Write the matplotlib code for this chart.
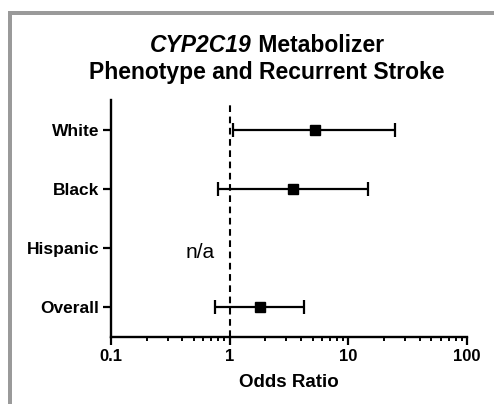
import numpy as np
import matplotlib
matplotlib.use("Agg")
import matplotlib.pyplot as plt
from matplotlib.patches import Rectangle

plt.rcParams['font.family'] = ['Liberation Sans', 'DejaVu Sans']

categories = ['White', 'Black', 'Hispanic', 'Overall']
odds_ratio = [5.2, 3.45, np.nan, 1.8]
ci_low = [1.07, 0.80, np.nan, 0.75]
ci_high = [24.7, 14.7, np.nan, 4.25]
na_label = 'n/a'
x_ticks = [0.1, 1, 10, 100]
x_tick_labels = ['0.1', '1', '10', '100']

W, H = 494, 404
fig = plt.figure(figsize=(W / 100, H / 100), dpi=100)
ax = fig.add_axes([111 / W, (H - 337) / H, 356 / W, 237 / H])

y = np.arange(len(categories))
or_arr = np.array(odds_ratio)
lo = or_arr - np.array(ci_low)
hi = np.array(ci_high) - or_arr
mask = ~np.isnan(or_arr)
ax.errorbar(or_arr[mask], y[mask], xerr=[lo[mask], hi[mask]], fmt='s', color='black',
            ecolor='black', elinewidth=1.6, capsize=5, capthick=1.6, markersize=6.5, zorder=3)

ax.axvline(1, ymin=0, ymax=0.98, color='black', lw=1.5, ls=(0, (3.2, 2.2)), zorder=2)

for i, v in enumerate(odds_ratio):
    if np.isnan(v):
        ax.text(0.56, i + 0.07, na_label, fontsize=15, ha='center', va='center')

ax.set_xscale('log')
ax.set_xlim(0.1, 100)
ax.set_ylim(len(categories) - 0.5, -0.5)
ax.set_yticks(y)
ax.set_yticklabels(categories, fontsize=12.5, fontweight='bold')
ax.set_xticks(x_ticks)
ax.set_xticklabels(x_tick_labels, fontsize=12, fontweight='bold')
ax.set_xlabel('Odds Ratio', fontsize=13.5, fontweight='bold', labelpad=7)

for s in ['top', 'right']:
    ax.spines[s].set_visible(False)
for s in ['left', 'bottom']:
    ax.spines[s].set_linewidth(1.7)
ax.tick_params(axis='both', which='major', length=5.5, width=1.6, direction='out', pad=3)
ax.tick_params(axis='x', which='minor', length=3.2, width=1.4, direction='out')

# Title
fig.canvas.draw()
r = fig.canvas.get_renderer()
tsize = 16.5
p1 = fig.text(0, 0, 'CYP2C19', fontsize=tsize, fontweight='bold', fontstyle='italic')
p2 = fig.text(0, 0, ' Metabolizer', fontsize=tsize, fontweight='bold')
w1 = p1.get_window_extent(r).width
w2 = p2.get_window_extent(r).width
cx = 267
x0 = cx - (w1 + w2) / 2
base1 = H - 52
p1.set_position((x0 / W, base1 / H))
p2.set_position(((x0 + w1) / W, base1 / H))
fig.text(cx / W, (H - 79) / H, 'Phenotype and Recurrent Stroke', fontsize=tsize,
         fontweight='bold', ha='center', va='baseline')

# Gray frame
gray = '#9a9a9a'
fig.add_artist(Rectangle((8 / W, 0), 4 / W, (H - 11) / H, transform=fig.transFigure,
                         facecolor=gray, edgecolor='none'))
fig.add_artist(Rectangle((8 / W, (H - 15) / H), (W - 8) / W, 4 / H, transform=fig.transFigure,
                         facecolor=gray, edgecolor='none'))

fig.savefig('out.png', dpi=100)
